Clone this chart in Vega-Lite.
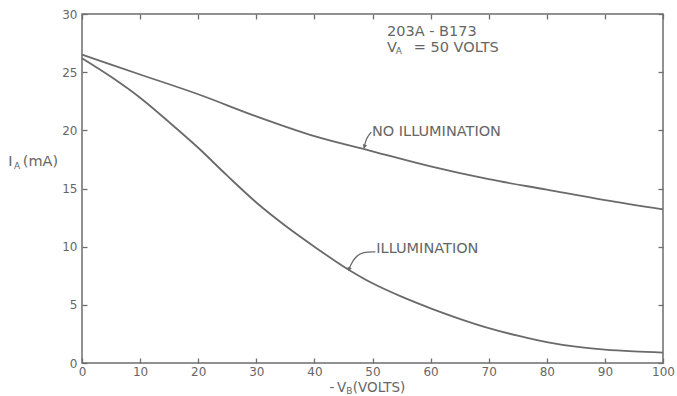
{
  "$schema": "https://vega.github.io/schema/vega-lite/v6.json",
  "width": 581,
  "height": 349,
  "autosize": {"type": "none"},
  "padding": {"left": 82, "top": 14, "right": 14, "bottom": 33},
  "background": "white",
  "config": {
    "view": {"stroke": "#6e6e6e", "strokeWidth": 1.5},
    "axis": {
      "grid": false,
      "domain": false,
      "tickColor": "#6e6e6e",
      "tickWidth": 1.3,
      "tickSize": -5,
      "labelFont": "DejaVu Sans",
      "labelFontSize": 12,
      "labelColor": "#666666",
      "labelFlush": false,
      "labelOverlap": false,
      "titleFont": "DejaVu Sans"
    },
    "text": {"font": "DejaVu Sans", "color": "#666666"}
  },
  "datasets": {
    "curves": [
      {"series": "No illumination", "v": 0, "ia": 26.5},
      {"series": "No illumination", "v": 10, "ia": 24.8},
      {"series": "No illumination", "v": 20, "ia": 23.1},
      {"series": "No illumination", "v": 30, "ia": 21.2},
      {"series": "No illumination", "v": 40, "ia": 19.5},
      {"series": "No illumination", "v": 50, "ia": 18.2},
      {"series": "No illumination", "v": 60, "ia": 16.9},
      {"series": "No illumination", "v": 70, "ia": 15.8},
      {"series": "No illumination", "v": 80, "ia": 14.9},
      {"series": "No illumination", "v": 90, "ia": 14.0},
      {"series": "No illumination", "v": 100, "ia": 13.2},
      {"series": "Illumination", "v": 0, "ia": 26.2},
      {"series": "Illumination", "v": 5, "ia": 24.6},
      {"series": "Illumination", "v": 10, "ia": 22.8},
      {"series": "Illumination", "v": 15, "ia": 20.7},
      {"series": "Illumination", "v": 20, "ia": 18.5},
      {"series": "Illumination", "v": 25, "ia": 16.1},
      {"series": "Illumination", "v": 30, "ia": 13.8},
      {"series": "Illumination", "v": 35, "ia": 11.8},
      {"series": "Illumination", "v": 40, "ia": 10.0},
      {"series": "Illumination", "v": 45, "ia": 8.3},
      {"series": "Illumination", "v": 50, "ia": 6.85},
      {"series": "Illumination", "v": 55, "ia": 5.7},
      {"series": "Illumination", "v": 60, "ia": 4.7},
      {"series": "Illumination", "v": 65, "ia": 3.8},
      {"series": "Illumination", "v": 70, "ia": 3.0},
      {"series": "Illumination", "v": 75, "ia": 2.35},
      {"series": "Illumination", "v": 80, "ia": 1.8},
      {"series": "Illumination", "v": 85, "ia": 1.4},
      {"series": "Illumination", "v": 90, "ia": 1.15},
      {"series": "Illumination", "v": 95, "ia": 1.0},
      {"series": "Illumination", "v": 100, "ia": 0.9}
    ],
    "arrows": [
      {"arrow": "no", "i": 0, "v": 49.8, "ia": 19.85},
      {"arrow": "no", "i": 1, "v": 49.1, "ia": 19.42},
      {"arrow": "no", "i": 2, "v": 48.75, "ia": 19.0},
      {"arrow": "no", "i": 3, "v": 48.6, "ia": 18.5},
      {"arrow": "yes", "i": 0, "v": 50.5, "ia": 9.55},
      {"arrow": "yes", "i": 1, "v": 48.4, "ia": 9.55},
      {"arrow": "yes", "i": 2, "v": 47.0, "ia": 9.12},
      {"arrow": "yes", "i": 3, "v": 46.2, "ia": 8.41},
      {"arrow": "yes", "i": 4, "v": 45.9, "ia": 7.95}
    ],
    "heads": [
      {"arrow": "no", "v": 48.6, "ia": 18.6},
      {"arrow": "yes", "v": 45.95, "ia": 8.05}
    ],
    "labels": [
      {"v": 52.5, "ia": 28.46, "t": "203A - B173"},
      {"v": 52.5, "ia": 27.08, "t": "V"},
      {"v": 57.1, "ia": 27.08, "t": "= 50 VOLTS"},
      {"v": 49.9, "ia": 19.85, "t": "NO ILLUMINATION"},
      {"v": 50.65, "ia": 9.78, "t": "ILLUMINATION"},
      {"v": -12.7, "ia": 17.27, "t": "I"},
      {"v": -10.2, "ia": 17.27, "t": "(mA)"}
    ],
    "xtitle": [
      {"v": 42.6, "ia": -2.15, "t": "-"},
      {"v": 43.9, "ia": -2.15, "t": "V"},
      {"v": 46.6, "ia": -2.15, "t": "(VOLTS)"}
    ],
    "subs": [
      {"v": 54.0, "ia": 26.8, "t": "A"},
      {"v": -11.7, "ia": 16.97, "t": "A"},
      {"v": 45.5, "ia": -2.4, "t": "B"}
    ]
  },
  "layer": [
    {
      "data": {"name": "curves"},
      "mark": {"type": "line", "interpolate": "monotone", "color": "#6a6a6a", "strokeWidth": 1.8},
      "encoding": {
        "x": {"field": "v", "type": "quantitative", "scale": {"domain": [0, 100], "nice": false},
              "axis": {"orient": "bottom", "values": [0,10,20,30,40,50,60,70,80,90,100], "labelPadding": 8, "title": null}},
        "y": {"field": "ia", "type": "quantitative", "scale": {"domain": [0, 30], "nice": false},
              "axis": {"orient": "left", "values": [0,5,10,15,20,25,30], "labelPadding": 10, "title": null}},
        "detail": {"field": "series"}
      }
    },
    {
      "data": {"name": "curves"},
      "mark": {"type": "line", "strokeOpacity": 0},
      "encoding": {
        "x": {"field": "v", "type": "quantitative", "scale": {"domain": [0, 100], "nice": false},
              "axis": {"orient": "top", "values": [0,10,20,30,40,50,60,70,80,90,100], "labels": false, "title": null}},
        "y": {"field": "ia", "type": "quantitative", "scale": {"domain": [0, 30], "nice": false},
              "axis": {"orient": "right", "values": [0,5,10,15,20,25,30], "labels": false, "title": null}},
        "detail": {"field": "series"}
      }
    },
    {
      "data": {"name": "arrows"},
      "mark": {"type": "line", "interpolate": "basis", "color": "#6a6a6a", "strokeWidth": 1.3},
      "encoding": {
        "x": {"field": "v", "type": "quantitative", "axis": null},
        "y": {"field": "ia", "type": "quantitative", "axis": null},
        "detail": {"field": "arrow"},
        "order": {"field": "i"}
      }
    },
    {
      "data": {"name": "heads"},
      "mark": {"type": "point", "shape": "triangle-down", "filled": true, "size": 22, "color": "#6a6a6a", "opacity": 1, "angle": 20},
      "encoding": {
        "x": {"field": "v", "type": "quantitative", "axis": null},
        "y": {"field": "ia", "type": "quantitative", "axis": null}
      }
    },
    {
      "data": {"name": "labels"},
      "mark": {"type": "text", "align": "left", "baseline": "middle", "fontSize": 14.5, "clip": false},
      "encoding": {
        "x": {"field": "v", "type": "quantitative", "axis": null},
        "y": {"field": "ia", "type": "quantitative", "axis": null},
        "text": {"field": "t"}
      }
    },
    {
      "data": {"name": "xtitle"},
      "mark": {"type": "text", "align": "left", "baseline": "middle", "fontSize": 13.5, "clip": false},
      "encoding": {
        "x": {"field": "v", "type": "quantitative", "axis": null},
        "y": {"field": "ia", "type": "quantitative", "axis": null},
        "text": {"field": "t"}
      }
    },
    {
      "data": {"name": "subs"},
      "mark": {"type": "text", "align": "left", "baseline": "middle", "fontSize": 9, "clip": false},
      "encoding": {
        "x": {"field": "v", "type": "quantitative", "axis": null},
        "y": {"field": "ia", "type": "quantitative", "axis": null},
        "text": {"field": "t"}
      }
    }
  ],
  "resolve": {"axis": {"x": "independent", "y": "independent"}}
}
